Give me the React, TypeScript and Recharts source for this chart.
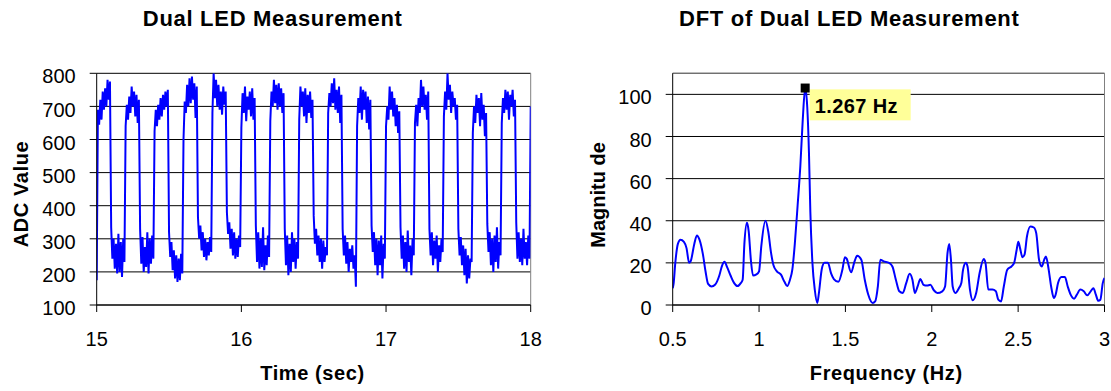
import React from "react";
import { LineChart, Line, XAxis, YAxis, CartesianGrid, ReferenceLine, ReferenceDot } from "recharts";

const FONT = "'Liberation Sans', Arial, Helvetica, sans-serif";

// ADC readings, sampled every 1/120 s starting at 15 s (one row = one LED half-cycle)
const SAMPLE_START = 15;
const SAMPLE_RATE = 120;
const adcReadings: number[] = [
  175, 690, 645, 720, 660, 745, 690, 755, 700, 780, 720, 775,
  335, 240, 300, 210, 285, 195, 315, 200, 290, 185, 300, 230,
  640, 705, 660, 730, 680, 760, 700, 745, 670, 735, 650, 720,
  330, 225, 305, 200, 275, 215, 320, 195, 300, 225, 310, 240,
  625, 690, 640, 705, 660, 725, 670, 735, 690, 745, 700, 750,
  320, 245, 290, 205, 265, 180, 250, 170, 240, 175, 255, 195,
  600, 715, 680, 765, 700, 785, 710, 790, 720, 770, 665, 760,
  365, 300, 340, 265, 320, 245, 300, 235, 290, 250, 305, 260,
  680, 800, 725, 780, 700, 765, 690, 745, 675, 760, 705, 745,
  380, 315, 350, 270, 330, 250, 320, 240, 300, 245, 310, 275,
  635, 740, 680, 760, 655, 730, 690, 745, 670, 755, 660, 725,
  340, 230, 320, 210, 300, 215, 335, 205, 280, 220, 310, 245,
  655, 745, 700, 780, 710, 765, 690, 770, 700, 755, 680, 740,
  330, 220, 310, 190, 285, 200, 320, 230, 300, 210, 290, 240,
  660, 760, 700, 745, 670, 755, 650, 735, 680, 745, 665, 720,
  370, 285, 330, 250, 310, 230, 300, 210, 295, 230, 275, 250,
  680, 740, 700, 770, 710, 785, 690, 750, 680, 760, 650, 735,
  330, 250, 310, 225, 290, 200, 270, 230, 280, 210, 250, 155,
  640, 725, 680, 760, 660, 750, 690, 745, 650, 730, 630, 720,
  340, 260, 320, 220, 300, 190, 295, 220, 310, 180, 285, 240,
  640, 700, 660, 760, 690, 745, 670, 725, 640, 705, 620, 685,
  335, 240, 310, 210, 290, 200, 325, 230, 280, 190, 300, 250,
  650, 705, 640, 725, 680, 780, 700, 760, 690, 735, 660, 745,
  330, 250, 320, 220, 295, 240, 310, 200, 280, 230, 300, 260,
  670, 745, 690, 800, 720, 765, 680, 745, 700, 725, 660, 705,
  330, 250, 305, 220, 280, 190, 270, 165, 250, 180, 240, 230,
  620, 700, 650, 735, 680, 725, 640, 740, 660, 705, 610, 680,
  345, 260, 320, 220, 300, 200, 310, 230, 335, 210, 290, 250,
  650, 725, 680, 750, 690, 745, 660, 735, 700, 750, 670, 720,
  350, 240, 320, 230, 300, 220, 330, 240, 290, 220, 310, 240,
  700,
];
const timeTicks = [15, 16, 17, 18];
const adcTicks = [100, 200, 300, 400, 500, 600, 700, 800];

// DFT magnitude
const dftFrequency = [
  0.5, 0.505, 0.515, 0.53, 0.545, 0.565, 0.58, 0.595, 0.605, 0.625, 0.64, 0.655, 0.675, 0.69, 0.705,
  0.725, 0.745, 0.77, 0.785, 0.8, 0.815, 0.835, 0.855, 0.875, 0.895, 0.905, 0.915, 0.93, 0.94, 0.953,
  0.965, 0.985, 1.0, 1.013, 1.037, 1.053, 1.069, 1.083, 1.103, 1.127, 1.147, 1.163, 1.179, 1.193, 1.207,
  1.223, 1.239, 1.253, 1.267, 1.279, 1.289, 1.297, 1.309, 1.323, 1.337, 1.347, 1.363, 1.379, 1.399, 1.417,
  1.433, 1.459, 1.483, 1.497, 1.507, 1.533, 1.553, 1.568, 1.592, 1.612, 1.632, 1.658, 1.672, 1.688, 1.702,
  1.722, 1.752, 1.772, 1.792, 1.812, 1.832, 1.852, 1.872, 1.888, 1.902, 1.918, 1.934, 1.952, 1.972, 1.992,
  2.012, 2.032, 2.061, 2.077, 2.091, 2.101, 2.111, 2.121, 2.137, 2.157, 2.171, 2.181, 2.197, 2.207, 2.221,
  2.237, 2.257, 2.277, 2.301, 2.311, 2.327, 2.351, 2.371, 2.385, 2.401, 2.417, 2.437, 2.461, 2.477, 2.491,
  2.501, 2.511, 2.525, 2.537, 2.551, 2.571, 2.591, 2.605, 2.621, 2.637, 2.651, 2.661, 2.677, 2.691, 2.707,
  2.717, 2.731, 2.751, 2.771, 2.787, 2.804, 2.824, 2.84, 2.86, 2.88, 2.9, 2.92, 2.936, 2.95, 2.964,
  2.976, 2.99, 3.0,
];
const dftMagnitude = [
  8, 10, 20, 29, 31, 30, 27, 20, 21, 29, 33, 31, 24, 16, 10,
  8.8, 9.6, 14, 18.5, 20.5, 18, 14, 10.5, 9, 10.5, 12, 29, 39, 35, 21,
  14, 14.5, 16, 28, 40, 35, 25, 19, 16, 14.4, 11, 9, 12, 17, 29,
  47, 66, 88, 103, 94, 72, 44, 20, 7, 1, 6, 17, 20, 20, 15,
  12.3, 11, 17, 22.7, 22, 15.5, 20.7, 23.4, 21.5, 12, 5, 1, 1.7, 9, 21.5,
  20.7, 20, 18.3, 12, 6.5, 5.7, 10.4, 14.8, 12, 5.7, 8.8, 12.3, 9.6, 9.2, 9.6,
  7, 5.7, 6.5, 8.8, 24.6, 29, 21.5, 8.8, 5.7, 8, 10.4, 16.7, 20, 18.3, 7.3,
  2.2, 5.7, 15.2, 21.8, 20, 7.3, 7.3, 6.5, 2.5, 1.7, 8.8, 16.7, 18.3, 20, 26,
  30, 27, 22.7, 23.9, 32.5, 37.3, 36.8, 34, 21.5, 18.3, 21.5, 23, 16.7, 8.8, 3.3,
  4.9, 10.4, 13.3, 13.3, 8.8, 4.9, 3, 4.9, 7.3, 6.5, 4.6, 6.5, 8, 4.9, 2,
  2.5, 10.4, 12.8,
];
const freqTicks = [0.5, 1, 1.5, 2, 2.5, 3];
const magTicks = [0, 20, 40, 60, 80, 100];
const peakFrequency = 1.267;
const peakMagnitude = 103;
const peakLabel = "1.267 Hz";

const adcData = adcReadings.map((adc, i) => ({ time: SAMPLE_START + i / SAMPLE_RATE, adc }));
const dftData = dftFrequency.map((f, i) => ({ freq: f, mag: dftMagnitude[i] }));

const tickStyle = { fill: "#000", fontSize: 20, fontFamily: FONT };
const yTickStyle = { ...tickStyle, dy: 3 };

const PeakMarker = (props: any) => {
  const { cx, cy } = props;
  return (
    <g>
      <rect x={cx + 4.5} y={cy + 1.3} width={101} height={31} fill="#FFFF99" />
      <rect x={cx - 4.5} y={cy - 4.5} width={9} height={9} fill="#000" />
      <text
        x={cx + 9.5}
        y={cy + 24.7}
        fontSize={20}
        fontWeight="bold"
        fontFamily={FONT}
        letterSpacing={0.4}
        fill="#000"
      >
        {peakLabel}
      </text>
    </g>
  );
};

const titleProps = {
  fontFamily: FONT,
  fontWeight: "bold" as const,
  fill: "#000",
  textAnchor: "middle" as const,
};

const App: React.FC = () => {
  return (
    <div
      style={{
        position: "absolute",
        left: 0,
        top: 0,
        width: 1111,
        height: 391,
        background: "#fff",
        fontFamily: FONT,
        overflow: "hidden",
      }}
    >
      <div style={{ position: "absolute", left: 0, top: 0 }}>
        <LineChart width={556} height={391} data={adcData} margin={{ top: 73.3, right: 25.3, bottom: 26, left: 0 }}>
          <CartesianGrid vertical={false} stroke="#000" />
          <XAxis
            type="number"
            dataKey="time"
            domain={[15, 18]}
            ticks={timeTicks}
            interval={0}
            allowDataOverflow
            height={60}
            tickSize={7}
            tickMargin={20}
            axisLine={{ stroke: "#000" }}
            tickLine={{ stroke: "#000" }}
            tick={tickStyle}
          />
          <YAxis
            type="number"
            domain={[100, 800]}
            ticks={adcTicks}
            interval={0}
            allowDataOverflow
            width={96.7}
            tickSize={7}
            tickMargin={14}
            axisLine={{ stroke: "#000" }}
            tickLine={{ stroke: "#000" }}
            tick={yTickStyle}
          />
          <ReferenceLine x={18} stroke="#808080" />
          <Line
            type="linear"
            dataKey="adc"
            stroke="#0000FF"
            strokeWidth={2}
            dot={false}
            activeDot={false}
            isAnimationActive={false}
          />
        </LineChart>
      </div>

      <div style={{ position: "absolute", left: 560, top: 0 }}>
        <LineChart width={551} height={391} data={dftData} margin={{ top: 73.3, right: 6.5, bottom: 26, left: 0 }}>
          <CartesianGrid vertical={false} stroke="#000" />
          <XAxis
            type="number"
            dataKey="freq"
            domain={[0.5, 3]}
            ticks={freqTicks}
            interval={0}
            allowDataOverflow
            height={60}
            tickSize={7}
            tickMargin={20}
            axisLine={{ stroke: "#000" }}
            tickLine={{ stroke: "#000" }}
            tick={tickStyle}
          />
          <YAxis
            type="number"
            domain={[0, 110]}
            ticks={magTicks}
            interval={0}
            allowDataOverflow
            width={112.7}
            tickSize={7}
            tickMargin={14}
            axisLine={{ stroke: "#000" }}
            tickLine={{ stroke: "#000" }}
            tick={yTickStyle}
          />
          <ReferenceLine y={110} stroke="#808080" />
          <ReferenceLine x={3} stroke="#808080" />
          <Line
            type="monotone"
            dataKey="mag"
            stroke="#0000FF"
            strokeWidth={2}
            dot={false}
            activeDot={false}
            isAnimationActive={false}
          />
          <ReferenceDot x={peakFrequency} y={peakMagnitude} shape={PeakMarker} />
        </LineChart>
      </div>

      <svg
        width={1111}
        height={391}
        style={{ position: "absolute", left: 0, top: 0, pointerEvents: "none" }}
      >
        <text x={272.7} y={26} fontSize={22} letterSpacing={0.7} {...titleProps}>
          Dual LED Measurement
        </text>
        <text x={849.3} y={26} fontSize={22} letterSpacing={0.7} {...titleProps}>
          DFT of Dual LED Measurement
        </text>
        <text x={312.5} y={379.5} fontSize={20} letterSpacing={0.6} {...titleProps}>
          Time (sec)
        </text>
        <text x={886.3} y={379.5} fontSize={20} letterSpacing={0.6} {...titleProps}>
          Frequency (Hz)
        </text>
        <text transform="translate(28.3,194) rotate(-90)" fontSize={20} letterSpacing={0.6} {...titleProps}>
          ADC Value
        </text>
        <text transform="translate(604.5,195) rotate(-90)" fontSize={20} {...titleProps}>
          Magnitu de
        </text>
      </svg>
    </div>
  );
};

export default App;
